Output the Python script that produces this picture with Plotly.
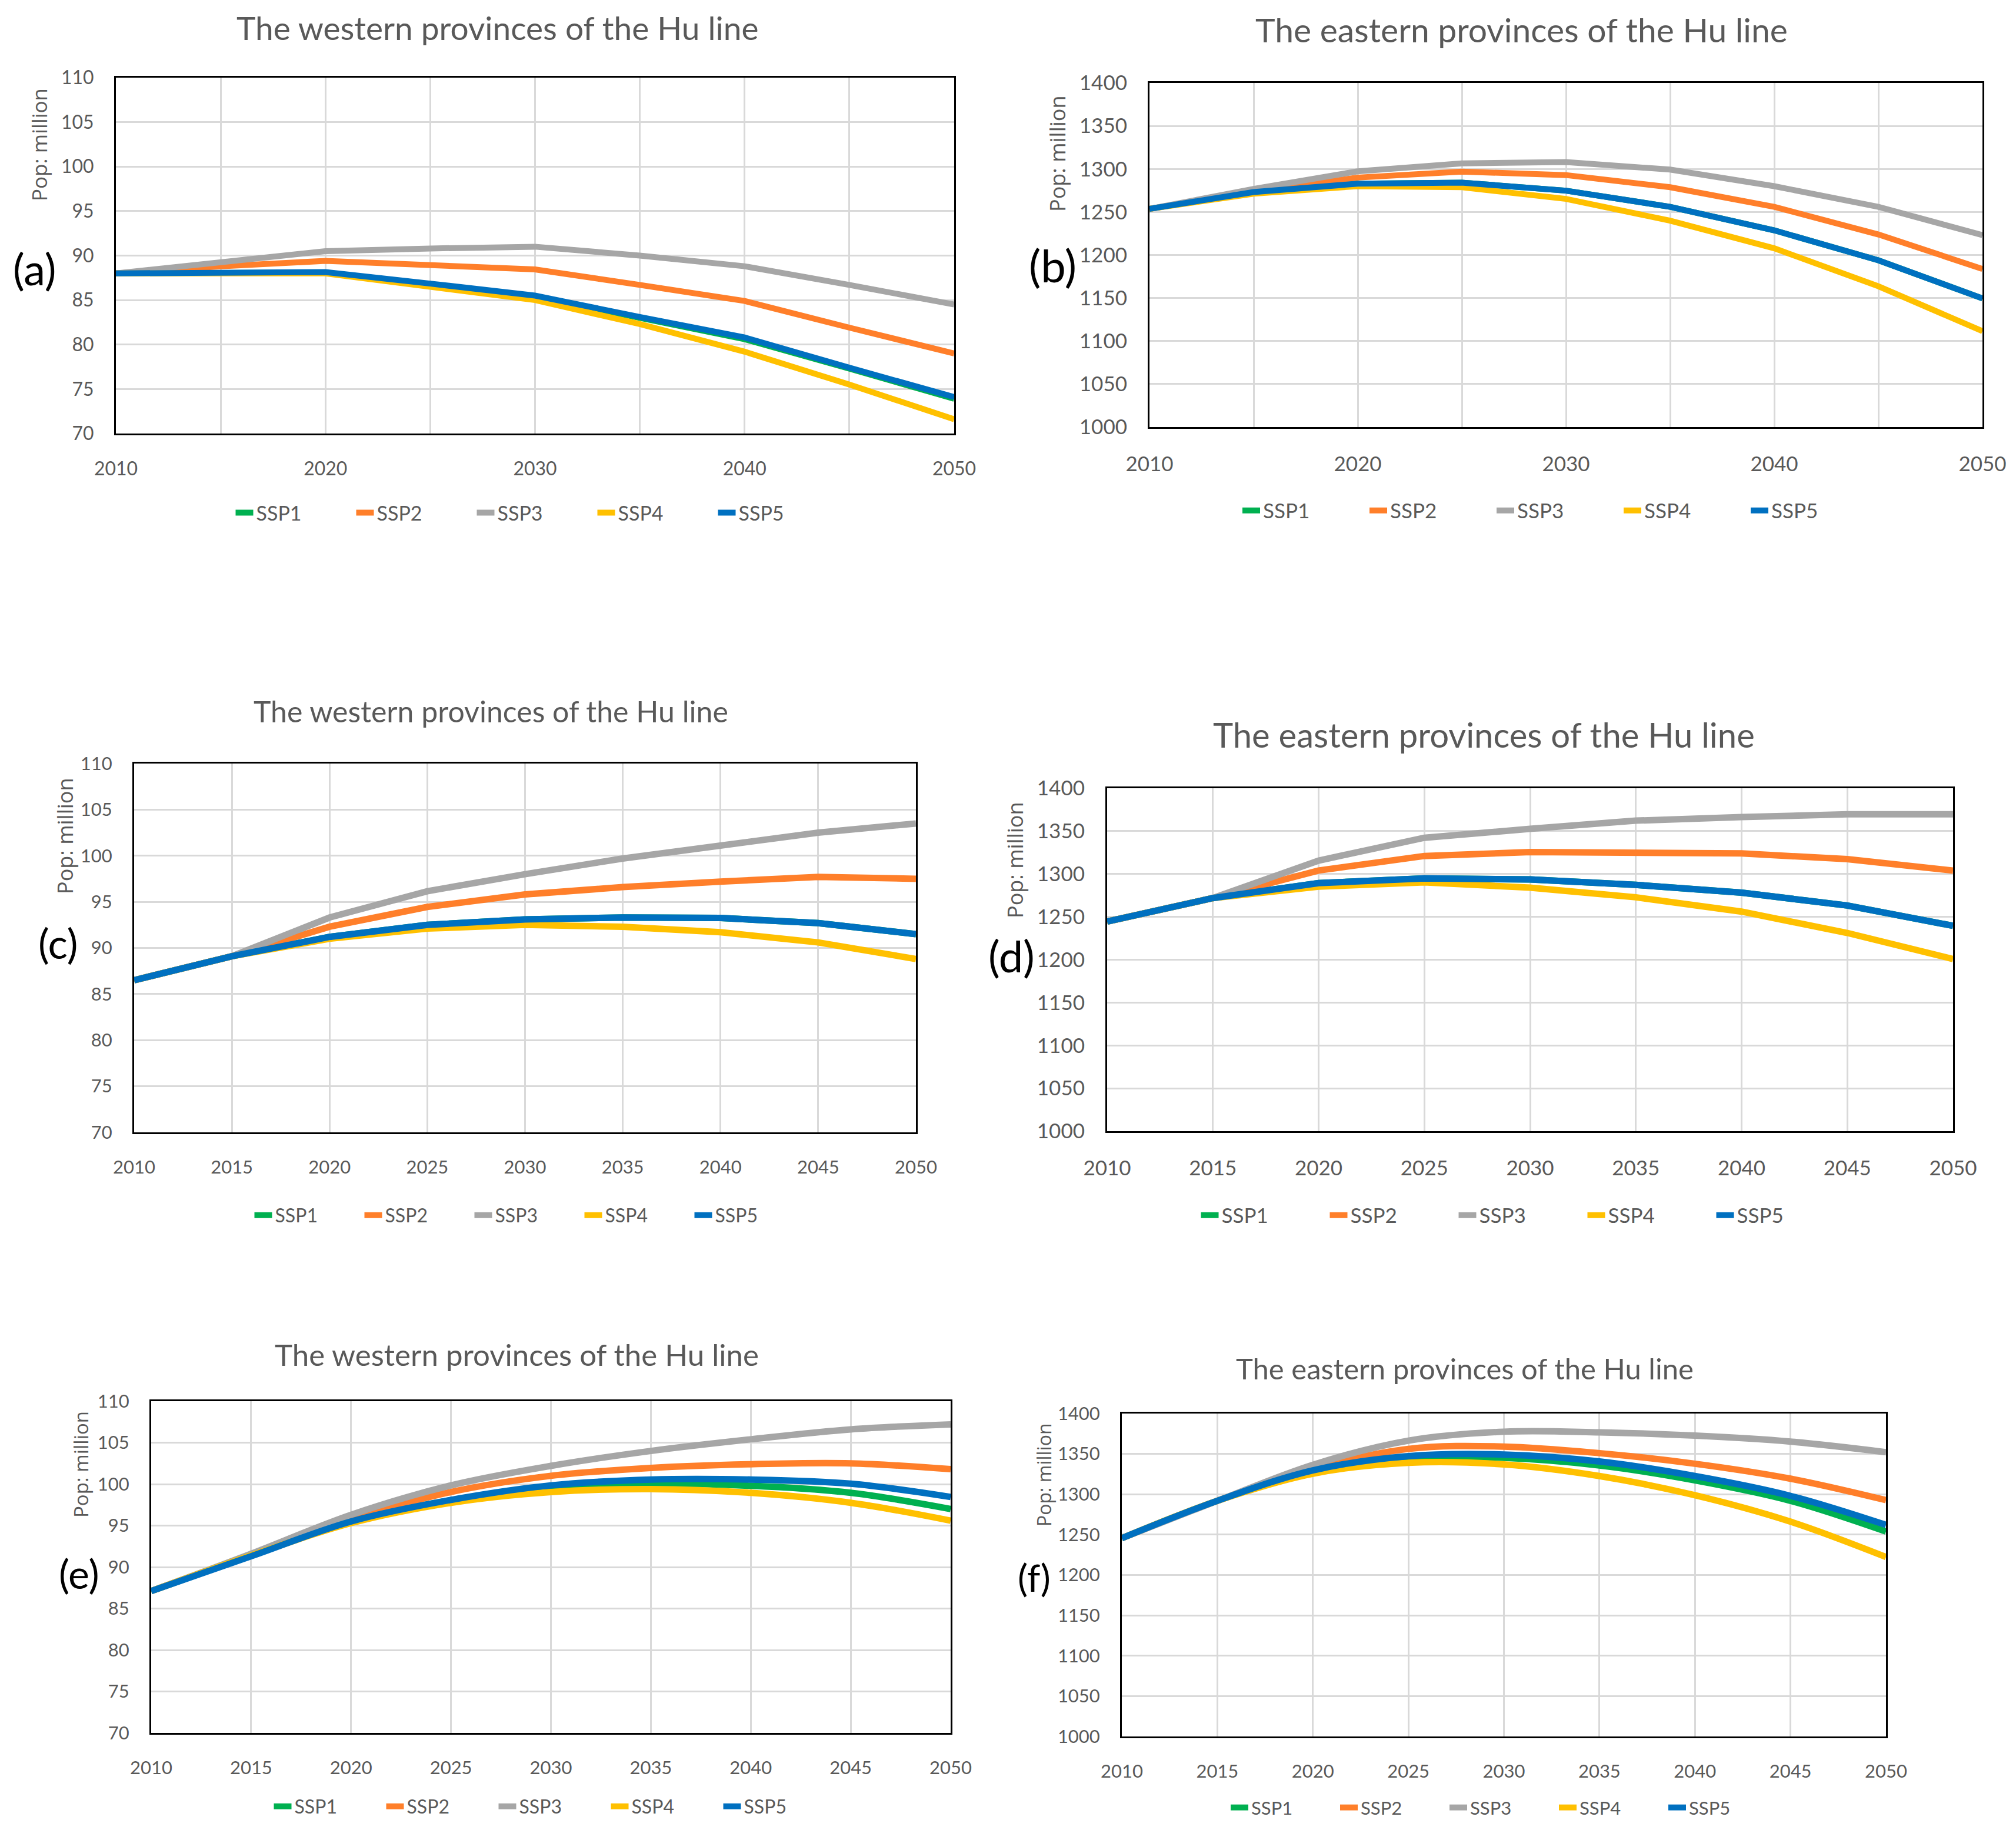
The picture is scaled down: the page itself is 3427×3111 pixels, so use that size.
import plotly.graph_objects as go

W, H = 3427, 3111

YEARS = [2010, 2015, 2020, 2025, 2030, 2035, 2040, 2045, 2050]
SERIES = ["SSP1", "SSP2", "SSP3", "SSP4", "SSP5"]
COLORS = ["#00B050", "#FF7F2A", "#A6A6A6", "#FFC000", "#0070C0"]

TITLE_W = "The western provinces of the Hu line"
TITLE_E = "The eastern provinces of the Hu line"
Y_TITLE = "Pop: million"
PANEL_LABELS = ["(a)", "(b)", "(c)", "(d)", "(e)", "(f)"]

# ---- panel (a): western, values in million
A_SSP1 = [88.0, 88.1, 88.1, 86.8, 85.4, 83.0, 80.6, 77.3, 73.9]
A_SSP2 = [88.0, 88.8, 89.4, 89.0, 88.45, 86.7, 84.9, 81.9, 79.0]
A_SSP3 = [88.0, 89.3, 90.5, 90.8, 91.0, 90.0, 88.8, 86.7, 84.5]
A_SSP4 = [88.0, 88.0, 88.0, 86.5, 85.0, 82.3, 79.2, 75.5, 71.6]
A_SSP5 = [88.0, 88.1, 88.15, 86.85, 85.5, 83.1, 80.8, 77.4, 74.1]

# ---- panel (b): eastern
B_SSP1 = [1253.6, 1273.2, 1282.9, 1284.1, 1274.8, 1256.0, 1228.7, 1193.8, 1149.6]
B_SSP2 = [1253.6, 1274.0, 1290.0, 1296.9, 1292.9, 1278.8, 1256.0, 1223.9, 1183.8]
B_SSP3 = [1253.6, 1276.8, 1297.3, 1306.5, 1308.1, 1299.3, 1280.0, 1256.0, 1223.1]
B_SSP4 = [1253.6, 1271.2, 1280.0, 1278.8, 1265.2, 1239.9, 1207.8, 1163.7, 1111.5]
B_SSP5 = [1253.6, 1273.2, 1282.9, 1284.1, 1274.8, 1256.0, 1228.7, 1193.8, 1149.6]

# ---- panel (c): western
C_SSP1 = [86.5, 89.1, 91.2, 92.5, 93.1, 93.3, 93.25, 92.7, 91.5]
C_SSP2 = [86.5, 89.1, 92.3, 94.45, 95.8, 96.6, 97.2, 97.7, 97.5]
C_SSP3 = [86.5, 89.1, 93.3, 96.15, 98.0, 99.7, 101.1, 102.5, 103.5]
C_SSP4 = [86.5, 89.1, 91.0, 92.1, 92.5, 92.3, 91.7, 90.6, 88.8]
C_SSP5 = [86.5, 89.1, 91.2, 92.5, 93.1, 93.3, 93.25, 92.7, 91.5]

# ---- panel (d): eastern
D_SSP1 = [1244.5, 1271.9, 1289.4, 1294.8, 1293.6, 1287.3, 1278.2, 1263.2, 1239.5]
D_SSP2 = [1244.5, 1271.9, 1304.0, 1321.0, 1325.6, 1325.6, 1324.0, 1317.3, 1304.0]
D_SSP3 = [1244.5, 1271.9, 1315.6, 1342.2, 1352.6, 1362.2, 1366.3, 1369.6, 1369.6]
D_SSP4 = [1244.5, 1271.9, 1285.2, 1290.2, 1284.0, 1272.8, 1256.1, 1231.2, 1200.8]
D_SSP5 = [1244.5, 1271.9, 1289.4, 1294.8, 1293.6, 1287.3, 1278.2, 1263.2, 1239.5]

# ---- panel (e): western
E_SSP1 = [87.1, 91.4, 95.5, 98.05, 99.65, 100.05, 99.8, 98.95, 97.0]
E_SSP2 = [87.1, 91.5, 95.75, 99.05, 101.0, 101.95, 102.4, 102.5, 101.8]
E_SSP3 = [87.1, 91.6, 96.3, 99.85, 102.2, 104.0, 105.4, 106.6, 107.2]
E_SSP4 = [87.1, 91.4, 95.3, 97.75, 99.05, 99.4, 98.95, 97.75, 95.6]
E_SSP5 = [87.1, 91.3, 95.5, 98.1, 99.85, 100.55, 100.55, 100.05, 98.45]

# ---- panel (f): eastern
F_SSP1 = [1245.6, 1291.9, 1328.8, 1344.7, 1345.1, 1335.7, 1317.3, 1291.9, 1253.8]
F_SSP2 = [1245.6, 1291.9, 1331.6, 1356.2, 1359.1, 1350.9, 1337.8, 1319.3, 1292.7]
F_SSP3 = [1245.6, 1291.9, 1336.5, 1366.4, 1377.5, 1376.7, 1372.6, 1365.2, 1352.1]
F_SSP4 = [1245.6, 1291.9, 1325.5, 1339.0, 1337.0, 1322.6, 1298.8, 1266.1, 1222.3]
F_SSP5 = [1245.6, 1291.9, 1329.6, 1347.2, 1349.2, 1340.6, 1322.6, 1298.0, 1262.0]

DATA = [
    [A_SSP1, A_SSP2, A_SSP3, A_SSP4, A_SSP5],
    [B_SSP1, B_SSP2, B_SSP3, B_SSP4, B_SSP5],
    [C_SSP1, C_SSP2, C_SSP3, C_SSP4, C_SSP5],
    [D_SSP1, D_SSP2, D_SSP3, D_SSP4, D_SSP5],
    [E_SSP1, E_SSP2, E_SSP3, E_SSP4, E_SSP5],
    [F_SSP1, F_SSP2, F_SSP3, F_SSP4, F_SSP5],
]
TITLES = [TITLE_W, TITLE_E, TITLE_W, TITLE_E, TITLE_W, TITLE_E]
Y_RANGES = [[70, 110], [1000, 1400], [70, 110], [1000, 1400], [70, 110], [1000, 1400]]
Y_DTICK = [5, 50, 5, 50, 5, 50]
X_DTICK = [10, 10, 5, 5, 5, 5]

# ---- layout (pixel boxes in the 3427 x 3111 page)
PLOT_BOX = [  # left, right, top, bottom
    (197, 1622, 132, 737),
    (1954, 3370, 141, 726),
    (228, 1557, 1298, 1925),
    (1882, 3320, 1340, 1923),
    (257, 1616, 2382, 2946),
    (1907, 3206, 2403, 2952),
]
TITLE_POS = [(845, 47), (2586, 50), (834, 1209), (2522, 1248), (878, 2302), (2490, 2326)]
TITLE_SIZE = [55, 57, 50, 58, 51, 49]
TICK_SIZE = [32, 35, 31, 35, 31, 31]
YT_POS = [(67, 246), (1798, 261), (110, 1421), (1725, 1462), (137, 2490), (1774, 2507)]
YT_SIZE = [35, 36, 36, 36, 33, 32]
LAB_POS = [(59, 456), (1790, 450), (99, 1603), (1720, 1624), (134, 2674), (1758, 2681)]
LAB_SIZE = [74, 76, 70, 74, 68, 64]
LEG_POS = [(908, 872), (2647, 868), (895, 2066), (2584, 2066), (938, 3071), (2552, 3073)]
LEG_STEP = [205, 216, 187, 219, 191, 186]
LEG_SIZE = [34, 35, 32, 35, 32, 31]
LINE_W = [10, 10, 11, 11, 11, 11]
SHAPE = ["linear", "linear", "linear", "linear", "spline", "spline"]

GREY = "#595959"
fig = go.Figure()
layout = dict(
    template="none",
    width=W, height=H, margin=dict(l=0, r=0, t=0, b=0, pad=0, autoexpand=False),
    paper_bgcolor="white", plot_bgcolor="white",
    font=dict(family="Lato, Calibri, sans-serif", color=GREY),
    annotations=[],
)

for i in range(6):
    n = "" if i == 0 else str(i + 1)
    xa, ya = "x" + n, "y" + n
    leg = "legend" + n
    l, r, t, b = PLOT_BOX[i]
    for s in range(5):
        fig.add_trace(go.Scatter(
            x=YEARS, y=DATA[i][s], name=SERIES[s], mode="lines",
            line=dict(color=COLORS[s], width=LINE_W[i], shape=SHAPE[i], smoothing=1.0),
            xaxis=xa, yaxis=ya, legend=leg, showlegend=True, hoverinfo="skip",
        ))
    xdict = dict(
        domain=[l / W, r / W], anchor=ya, range=[2010, 2050], automargin=False,
        tickmode="linear", tick0=2010, dtick=X_DTICK[i],
        showgrid=True, gridcolor="#D9D9D9", gridwidth=3,
        showline=True, linecolor="black", linewidth=3, mirror=True,
        ticks="", ticklabelstandoff=30, zeroline=False,
        tickfont=dict(size=TICK_SIZE[i], color=GREY, family="Lato, sans-serif"),
    )
    if X_DTICK[i] == 10:
        xdict["minor"] = dict(dtick=5, tick0=2010, showgrid=True, gridcolor="#D9D9D9", gridwidth=3)
    layout["xaxis" + n] = xdict
    layout["yaxis" + n] = dict(
        domain=[1 - b / H, 1 - t / H], anchor=xa, range=Y_RANGES[i], automargin=False,
        tickmode="linear", tick0=Y_RANGES[i][0], dtick=Y_DTICK[i],
        showgrid=True, gridcolor="#D9D9D9", gridwidth=3,
        showline=True, linecolor="black", linewidth=3, mirror=True,
        ticks="", ticklabelstandoff=28, zeroline=False,
        tickfont=dict(size=TICK_SIZE[i], color=GREY, family="Lato, sans-serif"),
    )
    layout[leg] = dict(
        orientation="h", x=LEG_POS[i][0] / W, y=1 - LEG_POS[i][1] / H,
        xanchor="center", yanchor="middle", xref="paper", yref="paper",
        entrywidth=LEG_STEP[i] - 45, entrywidthmode="pixels",
        font=dict(size=LEG_SIZE[i], color=GREY, family="Lato, sans-serif"),
        bgcolor="rgba(0,0,0,0)", tracegroupgap=0, itemclick=False,
    )
    layout["annotations"].append(dict(
        text=TITLES[i], x=TITLE_POS[i][0] / W, y=1 - TITLE_POS[i][1] / H,
        xref="paper", yref="paper", xanchor="center", yanchor="middle",
        showarrow=False, font=dict(size=TITLE_SIZE[i], color=GREY, family="Lato, sans-serif"),
    ))
    layout["annotations"].append(dict(
        text=Y_TITLE, x=YT_POS[i][0] / W, y=1 - YT_POS[i][1] / H,
        xref="paper", yref="paper", xanchor="center", yanchor="middle", textangle=-90,
        showarrow=False, font=dict(size=YT_SIZE[i], color=GREY, family="Open Sans, sans-serif"),
    ))
    layout["annotations"].append(dict(
        text=PANEL_LABELS[i], x=LAB_POS[i][0] / W, y=1 - LAB_POS[i][1] / H,
        xref="paper", yref="paper", xanchor="center", yanchor="middle",
        showarrow=False, font=dict(size=LAB_SIZE[i], color="black", family="Lato, sans-serif"),
    ))

fig.update_layout(**layout)
fig.write_html("out.html", config={"displayModeBar": False},
               post_script="document.body.style.margin='0';")
